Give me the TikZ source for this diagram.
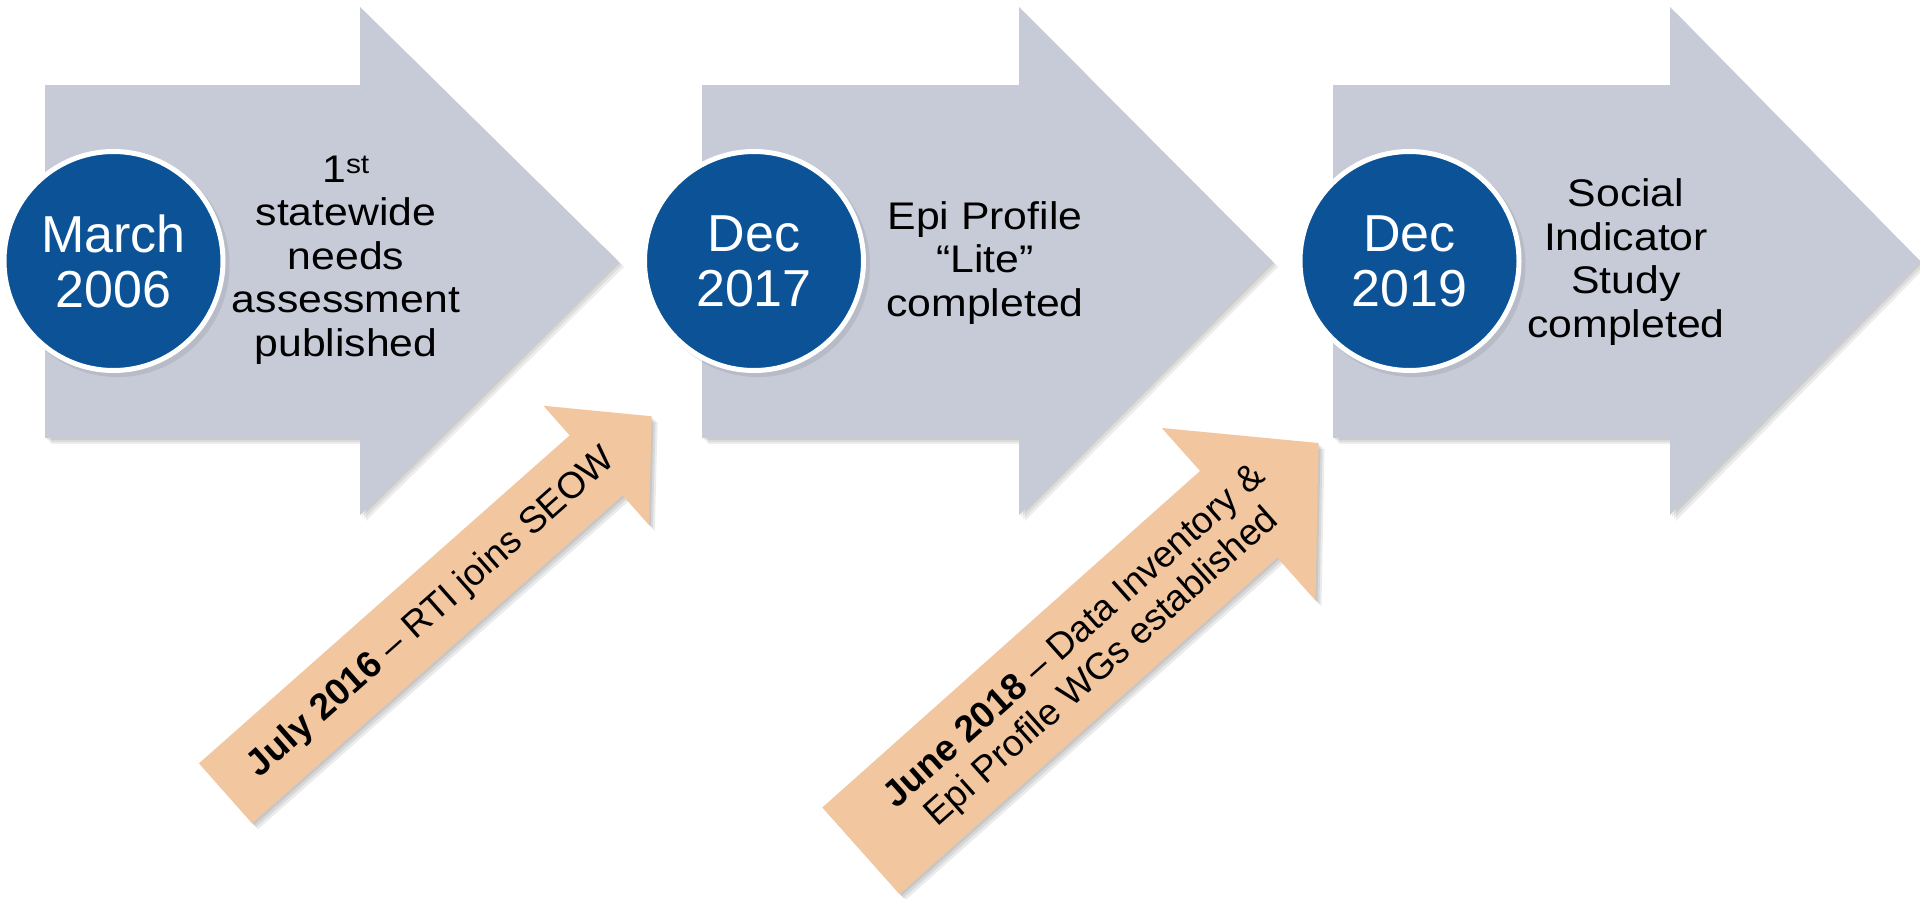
\documentclass[tikz,border=0pt]{standalone}
\usepackage{fontspec}
\setmainfont{Liberation Sans}
\newfontfamily\eventfont[FakeStretch=1.11]{Liberation Sans}
\usetikzlibrary{calc}

\definecolor{slabgray}{HTML}{C7CBD8}
\definecolor{dateblue}{HTML}{0B5396}
\definecolor{milestone}{HTML}{F2C69F}

\tikzset{
  slab/.style={fill=slabgray},
  slabshade/.style={fill=black, opacity=0.07},
  datedisc/.style={circle, fill=dateblue, draw=white, line width=5pt,
    minimum size=219pt, inner sep=0pt, text=white, align=center,
    font=\fontsize{52}{55}\selectfont},
  discshade/.style={circle, fill=black, opacity=0.08, minimum size=224pt, inner sep=0pt},
  eventtext/.style={align=center, text=black, font=\eventfont\fontsize{38.5}{43.5}\selectfont},
  ribbon/.style={fill=milestone},
  ribbonshade/.style={fill=black, opacity=0.08},
  ribbontext/.style={align=center, text=black, font=\fontsize{37}{41}\selectfont}
}

% big timeline arrow: left x, head start x, tip x
\newcommand\timelinearrow[4][]{%
  \path[#1] (#2,85) -- (#3,85) -- (#3,7) -- (#4,261) -- (#3,515) -- (#3,438) -- (#2,438) -- cycle;}

% slanted milestone arrow in local coordinates: half width, shaft length, head half width, total length
\newcommand\milestonearrow[5][]{%
  \path[#1] (0,-#2) -- (#3,-#2) -- (#3,-#4) -- (#5,0) -- (#3,#4) -- (#3,#2) -- (0,#2) -- cycle;}

\begin{document}
\begin{tikzpicture}[x=1pt,y=-1pt]
\useasboundingbox[fill=white] (0,0) rectangle (1920,898);

% timeline arrows with soft shadows
\foreach \d in {2,4,6}{
  \begin{scope}[shift={(\d,\d)}]
    \timelinearrow[slabshade]{45}{360}{618}
    \timelinearrow[slabshade]{702}{1019}{1272}
    \timelinearrow[slabshade]{1333}{1670}{1920}
  \end{scope}
}
\timelinearrow[slab]{45}{360}{618}
\timelinearrow[slab]{702}{1019}{1272}
\timelinearrow[slab]{1333}{1670}{1920}

% event descriptions
\node[eventtext] (ev1) at (346,260) {1\textsuperscript{st}\\statewide\\needs\\assessment\\published};
\node[eventtext] (ev2) at (985,263) {Epi Profile\\“Lite”\\completed};
\node[eventtext] (ev3) at (1626,262) {Social\\Indicator\\Study\\completed};

% date discs
\foreach \cx/\nm in {113.5/s1,754/s2,1409.5/s3}{
  \node[discshade] (\nm) at (\cx+4,265) {};
}
\node[datedisc] (d1) at (113.5,261) {March\\2006};
\node[datedisc] (d2) at (754,261) {Dec\\2017};
\node[datedisc] (d3) at (1409.5,261) {Dec\\2019};

% milestone arrows
\begin{scope}[shift={(225.5,793.3)}, rotate=41.5]
  \foreach \d in {2,4,6}{
    \begin{scope}[rotate=-41.5, shift={(\d,\d)}, rotate=41.5]
      \milestonearrow[ribbonshade]{40}{495}{79.5}{569}
    \end{scope}
  }
  \milestonearrow[ribbon]{40}{495}{79.5}{569}
  \node[ribbontext, transform shape] (m1) at (274,2) {\textbf{July 2016} – RTI joins SEOW};
\end{scope}

\begin{scope}[shift={(860.9,850.8)}, rotate=41.7]
  \foreach \d in {2,4,6}{
    \begin{scope}[rotate=-41.7, shift={(\d,\d)}, rotate=41.7]
      \milestonearrow[ribbonshade]{58}{506}{115.5}{613}
    \end{scope}
  }
  \milestonearrow[ribbon]{58}{506}{115.5}{613}
  \node[ribbontext, transform shape] (m2) at (302,4) {\textbf{June 2018} – Data Inventory \&\\Epi Profile WGs established};
\end{scope}

\end{tikzpicture}
\end{document}
